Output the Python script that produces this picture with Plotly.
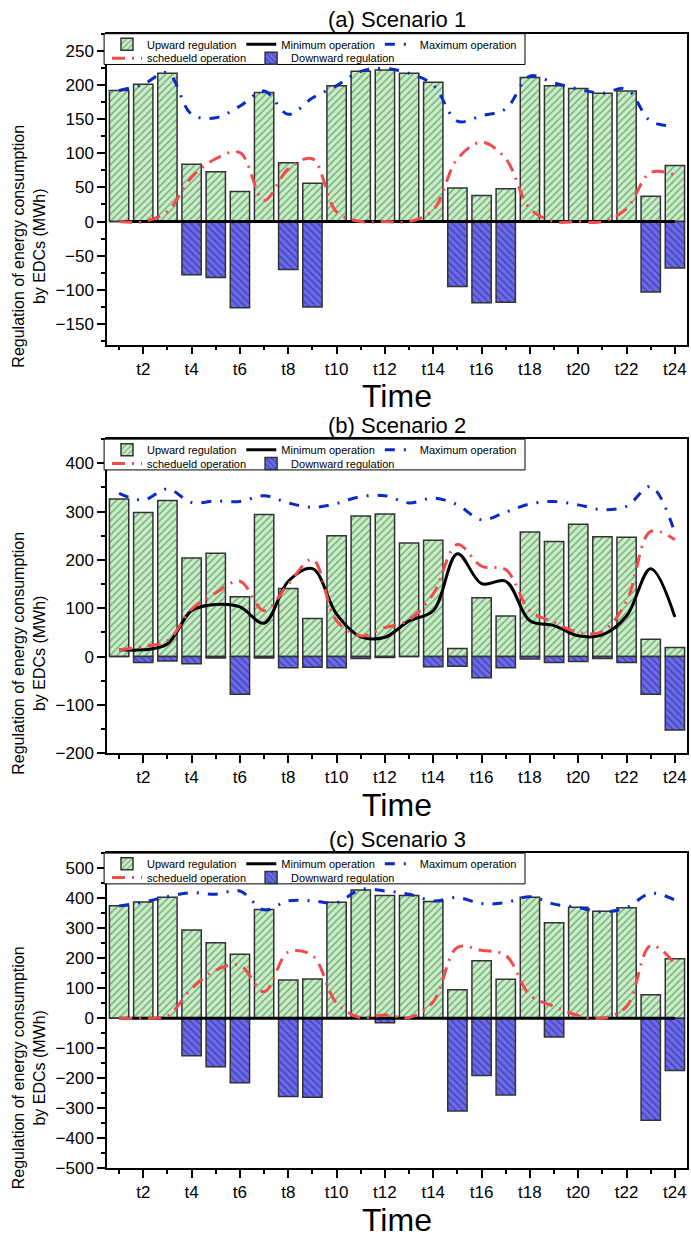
import plotly.graph_objects as go

# ---------------- data ----------------
slots = list(range(1, 25))
tick_vals = list(range(2, 25, 2))
tick_text = ["t" + str(v) for v in tick_vals]
minor_vals = list(range(1, 25, 2))

series_names = ["Upward regulation", "Downward regulation", "Minimum operation",
                "Maximum operation", "schedueld operation"]
titles = ["(a) Scenario 1", "(b) Scenario 2", "(c) Scenario 3"]

# Scenario 1
up1 = [192, 201, 217, 84, 73, 44, 189, 86, 56, 199, 220, 222, 217, 204, 49, 38, 48, 211, 199, 195, 188, 191, 37, 82]
down1 = [0, 0, 0, -78, -82, -126, 0, -70, -125, 0, 0, 0, 0, 0, -95, -119, -118, 0, 0, 0, 0, 0, -103, -68]
min1 = [0, 0, 0, 0, 0, 0, 0, 0, 0, 0, 0, 0, 0, 0, 0, 0, 0, 0, 0, 0, 0, 0, 0, 0]
max1 = [192, 201, 218, 157, 152, 169, 191, 157, 181, 199, 220, 224, 217, 200, 147, 155, 165, 213, 203, 194, 188, 194, 147, 140]
sch1 = [0, 0, 15, 65, 92, 101, 31, 77, 92, 14, 0, 0, 0, 17, 92, 116, 92, 19, 0, 0, 0, 19, 72, 68]

# Scenario 2
up2 = [326, 298, 323, 204, 214, 124, 294, 141, 79, 250, 291, 295, 235, 241, 17, 122, 84, 258, 238, 274, 248, 247, 36, 19]
down2 = [0, -12, -9, -15, -3, -78, -3, -23, -22, -23, -4, -2, 0, -21, -20, -44, -23, -5, -12, -10, -4, -12, -78, -152]
min2 = [14, 14, 26, 95, 108, 103, 69, 156, 182, 88, 41, 40, 74, 95, 213, 151, 156, 74, 64, 43, 45, 84, 182, 82]
max2 = [338, 324, 347, 319, 322, 321, 333, 318, 309, 317, 331, 333, 318, 328, 314, 283, 299, 316, 321, 314, 304, 311, 352, 256]
sch2 = [14, 21, 33, 98, 132, 156, 95, 150, 201, 74, 43, 60, 76, 130, 232, 187, 180, 95, 71, 50, 52, 115, 259, 242]

# Scenario 3
up3 = [375, 387, 403, 294, 251, 213, 362, 127, 131, 386, 427, 409, 409, 389, 95, 191, 130, 403, 318, 370, 356, 368, 78, 198]
down3 = [0, 0, 0, -125, -162, -215, 0, -261, -263, 0, 0, -15, 0, 0, -309, -191, -256, 0, -63, 0, 0, 0, -340, -174]
min3 = [0, 0, 0, 0, 0, 0, 0, 0, 0, 0, 0, 0, 0, 0, 0, 0, 0, 0, 0, 0, 0, 0, 0, 0]
max3 = [374, 387, 405, 418, 413, 424, 361, 391, 391, 385, 429, 424, 413, 391, 402, 382, 385, 405, 380, 369, 354, 369, 416, 394]
sch3 = [0, 0, 8, 99, 160, 176, 88, 220, 209, 50, 2, 11, 2, 55, 236, 226, 209, 77, 39, 9, 0, 39, 242, 182]

# ---------------- layout constants ----------------
FONT = "Liberation Sans, Arial, sans-serif"
W, H = 691, 1250
ML, MR = 107, 4
PW = W - ML - MR


def py(p):
    return 1 - p / H


panels = [
    dict(data=(up1, down1, min1, max1, sch1), rng=[-180, 275], dtick=50, mdt=25, top=34.0, bot=347.3),
    dict(data=(up2, down2, min2, max2, sch2), rng=[-200, 450], dtick=100, mdt=50, top=442.7, bot=759.3),
    dict(data=(up3, down3, min3, max3, sch3), rng=[-500, 550], dtick=100, mdt=50, top=860.0, bot=1177.7),
]

GREEN_BG = "#c6f1c6"
GREEN_FG = "#3f5e3f"
BLUE_BG = "#6a6af0"
BLUE_FG = "#17174d"
EDGE = "#333333"
RED = "#f24b4b"
BLUE = "#0a2bc8"

fig = go.Figure()
layout = dict(
    width=W, height=H,
    margin=dict(l=ML, r=MR, t=0, b=0),
    paper_bgcolor="white", plot_bgcolor="white",
    barmode="overlay", bargap=0.2,
    font=dict(family=FONT, color="black"),
    annotations=[], shapes=[],
)

for i, p in enumerate(panels):
    n = "" if i == 0 else str(i + 1)
    xa, ya = "x" + n, "y" + n
    lg1 = "legend" if i == 0 else "legend" + str(2 * i + 1)
    lg2 = "legend" + str(2 * i + 2)
    up, down, mn, mx, sc = p["data"]

    fig.add_trace(go.Bar(
        x=slots, y=up, name=series_names[0], xaxis=xa, yaxis=ya, width=0.8,
        marker=dict(color=GREEN_BG, line=dict(color=EDGE, width=1.5),
                    pattern=dict(shape="/", fgcolor=GREEN_FG, bgcolor=GREEN_BG,
                                 size=5, solidity=0.3, fillmode="overlay")),
        legend=lg1, legendrank=1))
    fig.add_trace(go.Bar(
        x=slots, y=down, name=series_names[1], xaxis=xa, yaxis=ya, width=0.8,
        marker=dict(color=BLUE_BG, line=dict(color=EDGE, width=1.5),
                    pattern=dict(shape="\\", fgcolor=BLUE_FG, bgcolor=BLUE_BG,
                                 size=5, solidity=0.28, fillmode="overlay")),
        legend=lg2, legendrank=2))
    fig.add_trace(go.Scatter(
        x=slots, y=mn, name=series_names[2], xaxis=xa, yaxis=ya, mode="lines",
        line=dict(color="black", width=3, shape="spline", smoothing=1.0),
        legend=lg1, legendrank=2))
    fig.add_trace(go.Scatter(
        x=slots, y=mx, name=series_names[3], xaxis=xa, yaxis=ya, mode="lines",
        line=dict(color=BLUE, width=3, shape="spline", smoothing=1.0, dash="10px,9px,2px,9px"),
        legend=lg1, legendrank=3))
    fig.add_trace(go.Scatter(
        x=slots, y=sc, name=series_names[4], xaxis=xa, yaxis=ya, mode="lines",
        line=dict(color=RED, width=3, shape="spline", smoothing=1.0, dash="13px,7px,2px,7px"),
        legend=lg2, legendrank=1))

    ydom = [py(p["bot"]), py(p["top"])]
    layout["xaxis" + n] = dict(
        domain=[0, 1], anchor=ya, range=[0.5, 24.5],
        tickmode="array", tickvals=tick_vals, ticktext=tick_text,
        ticks="outside", ticklen=8, tickwidth=1.5, tickcolor="black",
        minor=dict(tickmode="array", tickvals=minor_vals, ticks="outside",
                   ticklen=4, tickwidth=1.5, tickcolor="black"),
        showline=True, linecolor="black", linewidth=1.5, mirror=True,
        showgrid=False, zeroline=False,
        tickfont=dict(size=17, family=FONT),
    )
    layout["yaxis" + n] = dict(
        domain=ydom, anchor=xa, range=p["rng"],
        tick0=0, dtick=p["dtick"],
        ticks="outside", ticklen=8, tickwidth=1.5, tickcolor="black",
        minor=dict(dtick=p["mdt"], tick0=0, ticks="outside", ticklen=4,
                   tickwidth=1.5, tickcolor="black"),
        showline=True, linecolor="black", linewidth=1.5, mirror=True,
        showgrid=False, zeroline=False,
        tickfont=dict(size=17, family=FONT),
    )

    # legends (two rows) + frame
    layout[lg1] = dict(x=0, y=py(p["top"] - 4), xanchor="left", yanchor="top",
                       orientation="h", bgcolor="rgba(0,0,0,0)", borderwidth=0,
                       font=dict(size=11, family=FONT), itemwidth=30, tracegroupgap=0)
    layout[lg2] = dict(x=0, y=py(p["top"] + 10), xanchor="left", yanchor="top",
                       orientation="h", bgcolor="rgba(0,0,0,0)", borderwidth=0,
                       font=dict(size=11, family=FONT), itemwidth=30, tracegroupgap=0)
    layout["shapes"].append(dict(type="rect", xref="paper", yref="paper",
                                 x0=-0.005, x1=(525 - ML) / PW, y0=py(p["top"] + 31), y1=py(p["top"]),
                                 line=dict(color="black", width=1), fillcolor="white",
                                 layer="above"))

    # titles
    layout["annotations"].append(dict(
        text=titles[i], x=0.5, y=py(p["top"] - 14), xref="paper", yref="paper",
        showarrow=False, font=dict(size=22, family=FONT), xanchor="center", yanchor="middle"))
    layout["annotations"].append(dict(
        text="Time", x=0.5, y=py(p["bot"] + 52), xref="paper", yref="paper",
        showarrow=False, font=dict(size=32, family=FONT), xanchor="center", yanchor="middle"))
    layout["annotations"].append(dict(
        text="Regulation of energy consumption<br>by EDCs (MWh)",
        x=(29 - ML) / PW, y=py((p["top"] + p["bot"]) / 2 + 58),
        xref="paper", yref="paper", showarrow=False, textangle=-90,
        font=dict(size=16, family=FONT), xanchor="center", yanchor="middle"))

fig.update_layout(**layout)
fig.write_html("out.html")
